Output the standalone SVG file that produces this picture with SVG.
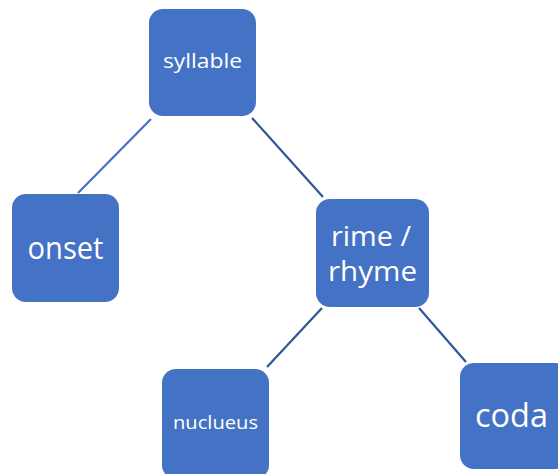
<svg xmlns="http://www.w3.org/2000/svg" width="558" height="474" viewBox="0 0 558 474">
<style>
.box{fill:#4472C4;}
.t{fill:#ffffff;font-family:"Open Sans","Noto Sans","Liberation Sans",sans-serif;text-anchor:middle;}
.c{stroke-width:2.2;fill:none;}
</style>
<rect width="558" height="474" fill="#ffffff"/>
<g id="connectors">
<line class="c" stroke="#4472C4" x1="151" y1="119" x2="78" y2="193"/>
<line class="c" stroke="#2F5597" x1="252" y1="118" x2="323" y2="197"/>
<line class="c" stroke="#2F5597" x1="322" y1="308" x2="267" y2="367"/>
<line class="c" stroke="#2F5597" x1="419" y1="308" x2="466" y2="362"/>
</g>
<g id="syllable">
<rect class="box" x="149" y="9" width="107" height="107" rx="14"/>
<text class="t" x="202.5" y="68" font-size="20" textLength="79" lengthAdjust="spacingAndGlyphs">syllable</text>
</g>
<g id="onset">
<rect class="box" x="12" y="194" width="107" height="108" rx="14"/>
<text class="t" x="65.5" y="259" font-size="31" textLength="76" lengthAdjust="spacingAndGlyphs">onset</text>
</g>
<g id="rime">
<rect class="box" x="316" y="199" width="113" height="108" rx="14"/>
<text class="t" x="371" y="246" font-size="28" textLength="80" lengthAdjust="spacingAndGlyphs">rime /</text>
<text class="t" x="372.5" y="281" font-size="28" textLength="89" lengthAdjust="spacingAndGlyphs">rhyme</text>
</g>
<g id="nucleus">
<rect class="box" x="162" y="369" width="107" height="110" rx="14"/>
<text class="t" x="215.5" y="429" font-size="18.5" textLength="85" lengthAdjust="spacingAndGlyphs">nuclueus</text>
</g>
<g id="coda">
<rect class="box" x="460" y="363" width="110" height="106" rx="14"/>
<text class="t" x="511.5" y="427" font-size="32" textLength="73" lengthAdjust="spacingAndGlyphs">coda</text>
</g>
</svg>
